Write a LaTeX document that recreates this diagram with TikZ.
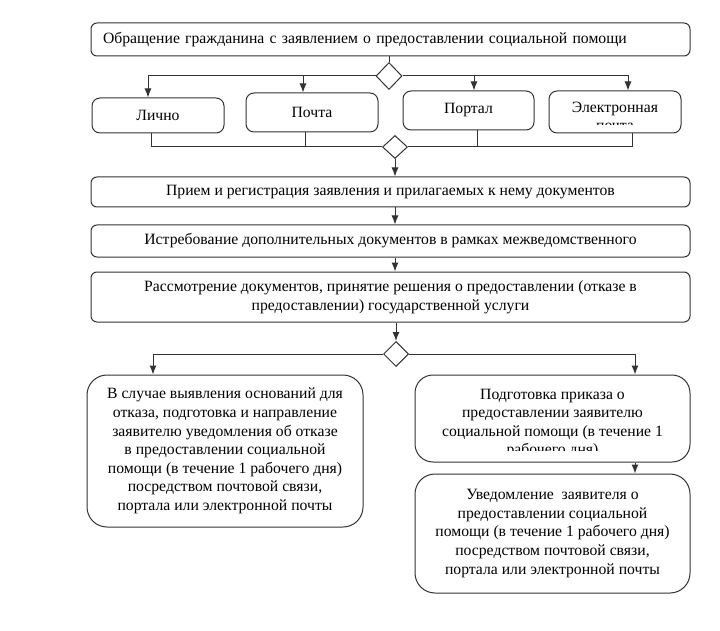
\documentclass[tikz,border=0pt]{standalone}
\usepackage{fontspec}
\setmainfont{Liberation Serif}
\usetikzlibrary{shapes.geometric,arrows.meta}
\tikzset{
  box/.style={draw=black!80, rounded corners=6pt, inner sep=0pt, align=center,
    font=\fontsize{15.7}{18.6}\selectfont},
  roundbox/.style={box, rounded corners=20pt},
  txt/.style={inner sep=0pt, align=center, font=\fontsize{15.7}{18.6}\selectfont},
  choice/.style={draw=black!80, fill=white, shape=diamond, inner sep=0pt,
    minimum width=26pt, minimum height=27pt}
}
\begin{document}
\begin{tikzpicture}[x=1pt,y=-1pt,->,>={Latex[length=9pt,width=7pt]},line width=1pt,draw=black!80]
\useasboundingbox (0,0) rectangle (720,631);
% first step and the four ways to apply
\node[box, minimum width=599pt, minimum height=33pt, text width=575pt, align=left] (apply) at (390.5,39.5)
  {Обращение гражданина с заявлением о предоставлении социальной помощи};
\node[choice] (d1) at (389,76) {};
\node[box, rounded corners=8pt, minimum width=132pt, minimum height=35pt] (lichno) at (158,115.5) {Лично};
\node[box, rounded corners=8pt, minimum width=132pt, minimum height=39pt] (pochta) at (312,112.5) {Почта};
\node[box, rounded corners=8pt, minimum width=131pt, minimum height=39pt] (portal) at (468.5,110.5) {Портал};
\node[box, rounded corners=8pt, minimum width=132pt, minimum height=42pt] (mail) at (615,112) {};
\begin{scope}
  \clip (mail.north west) rectangle ([yshift=9pt]mail.south east);
  \node[txt] at ([yshift=-4.5pt]mail.center) {Электронная\\почта};
\end{scope}
\node[choice, minimum width=25pt, minimum height=23pt] (d2) at (395,147) {};

% main chain
\node[box, minimum width=599pt, minimum height=30pt] (priem) at (390.5,192)
  {Прием и регистрация заявления и прилагаемых к нему документов};
\node[box, minimum width=599pt, minimum height=32pt] (istreb) at (390.5,241)
  {Истребование дополнительных документов в рамках межведомственного};
\node[box, minimum width=599pt, minimum height=50pt] (rassm) at (390.5,297)
  {Рассмотрение документов, принятие решения о предоставлении (отказе в\\
   предоставлении) государственной услуги};
\node[choice, minimum width=25pt, minimum height=25pt] (d3) at (396,354) {};

% outcomes
\node[roundbox, minimum width=276pt, minimum height=152pt] (refuse) at (225,451)
  {В случае выявления оснований для\\отказа, подготовка и направление\\
   заявителю уведомления об отказе\\в предоставлении социальной\\
   помощи (в течение 1 рабочего дня)\\посредством почтовой связи,\\
   портала или электронной почты};
\node[roundbox, rounded corners=18pt, minimum width=275pt, minimum height=87pt] (order) at (552.5,418.5) {};
\begin{scope}
  \clip (order.north west) rectangle ([yshift=12pt]order.south east);
  \node[txt] at ([yshift=-5pt]order.center)
    {Подготовка приказа о\\предоставлении заявителю\\социальной помощи (в течение 1\\рабочего дня)};
\end{scope}
\node[roundbox, minimum width=275pt, minimum height=119pt] (notify) at (552.5,533.5)
  {Уведомление\ \ заявителя о\\предоставлении социальной\\
   помощи (в течение 1 рабочего дня)\\посредством почтовой связи,\\
   портала или электронной почты};

% connectors
\coordinate (aL) at (148,76); \coordinate (aP) at (303,76);
\coordinate (aT) at (474,76); \coordinate (aE) at (628,76);
\coordinate (bL) at (151,147); \coordinate (bP) at (305,147);
\coordinate (bT) at (477,147); \coordinate (bE) at (632,147);
\coordinate (cL) at (153,354); \coordinate (cR) at (635,354);

\draw[-] (apply.south -| d1) -- (d1.north);
\draw (d1.west) -- (aL) -- (aL |- lichno.north);
\draw (aP) -- (aP |- pochta.north);
\draw (aT) -- (aT |- portal.north);
\draw (d1.east) -- (aE) -- (aE |- mail.north);

\draw[-] (bL |- lichno.south) -- (bL) -- (d2.west);
\draw[-] (bP |- pochta.south) -- (bP);
\draw[-] (bT |- portal.south) -- (bT);
\draw[-] (bE |- mail.south) -- (bE) -- (d2.east);

\draw (d2.south) -- (d2.south |- priem.north);
\draw (d2 |- priem.south) -- (d2 |- istreb.north);
\draw (d2 |- istreb.south) -- (d2 |- rassm.north);
\draw (d3 |- rassm.south) -- (d3.north);
\draw (d3.west) -- (cL) -- (cL |- refuse.north);
\draw (d3.east) -- (cR) -- (cR |- order.north);
\draw (cR |- order.south) -- (cR |- notify.north);
\end{tikzpicture}
\end{document}
